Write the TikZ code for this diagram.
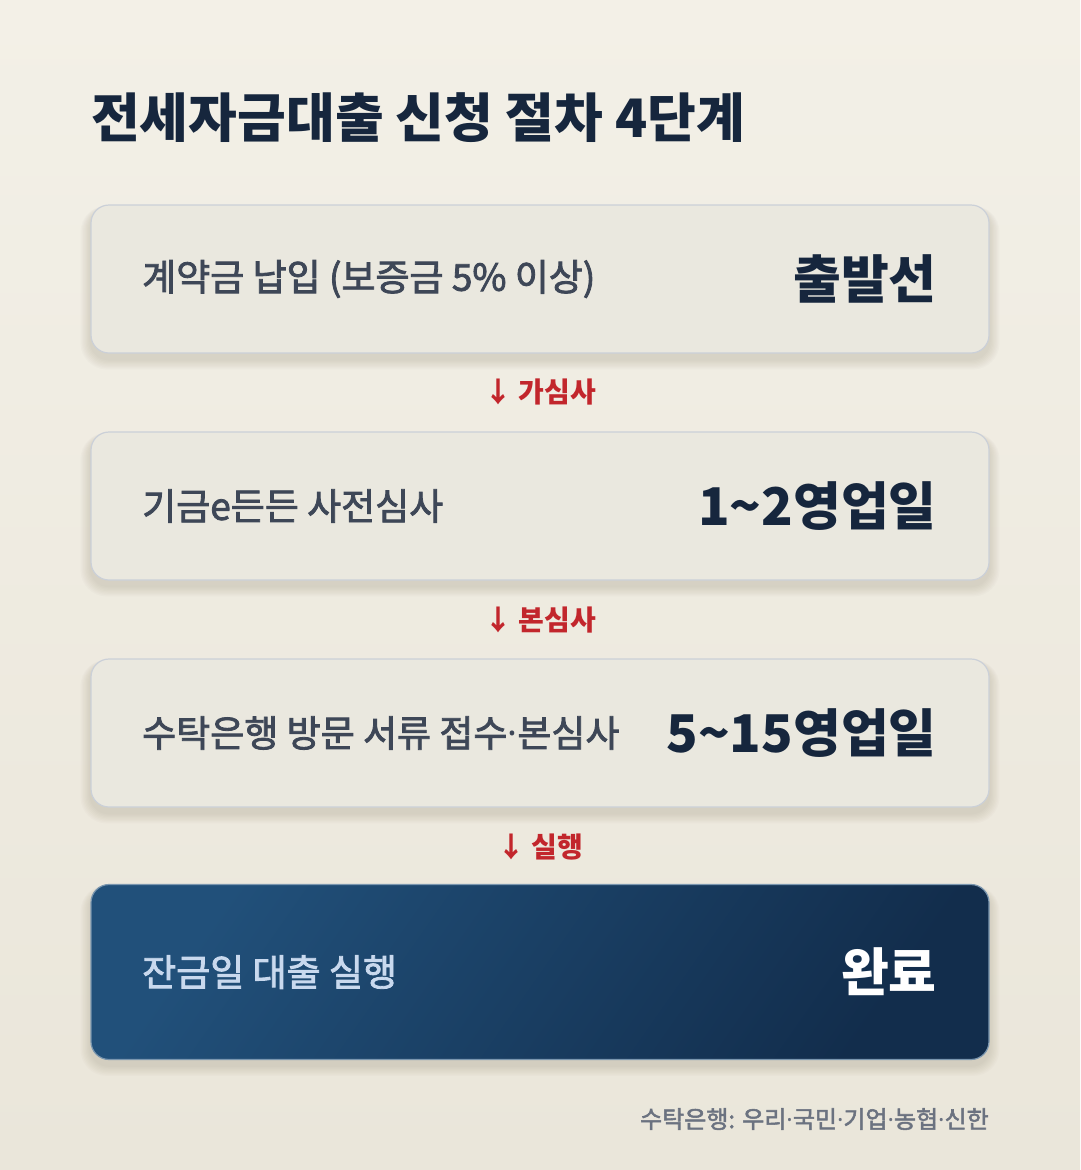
\documentclass[tikz,border=0pt]{standalone}
\usepackage{fontspec}
\usepackage{tikz}
\usepackage{xcolor}
\usetikzlibrary{calc,positioning,shadows}
\setmainfont{Noto Sans CJK KR}
\newfontfamily\medfont[FakeBold=2.2]{Noto Sans CJK KR}
\newfontfamily\dotfont{Noto Sans}
\definecolor{jsbg}{HTML}{F3F0E7}
\definecolor{jsbgdark}{HTML}{EAE6DA}
\definecolor{jsbox}{HTML}{EAE8DF}
\definecolor{jsedge}{HTML}{CBD0D8}
\definecolor{jsnavy}{HTML}{16263D}
\definecolor{jsgraytext}{HTML}{3E4757}
\definecolor{jsred}{HTML}{C2262C}
\definecolor{jsblueA}{HTML}{21507A}
\definecolor{jsblueB}{HTML}{122D4C}
\definecolor{jspale}{HTML}{C9D9EE}
\definecolor{jsfoot}{HTML}{6B7280}
\definecolor{jsshadow}{HTML}{6E6650}
\newcommand{\fs}[1]{\fontsize{#1}{#1}\selectfont}
\newcommand{\mdot}{{\dotfont ·}}
% soft shadow under a box: \softshadow{center}{height}
\newcommand{\softshadow}[2]{%
  \foreach \k in {1,...,8}
    \fill[jsshadow, opacity=0.022, rounded corners=18pt+\k pt]
      ($(#1)+(-449-\k*1.3,-#2/2+4-\k*0.4)$) rectangle ($(#1)+(449+\k*1.3,#2/2+6+\k*1.3)$);}

\begin{document}
\begin{tikzpicture}[x=1pt, y=-1pt,
  stepbox/.style={draw=jsedge, line width=1.2pt, fill=jsbox, rounded corners=18pt,
    minimum width=898pt, minimum height=148pt, inner sep=0pt},
  lefttxt/.style={anchor=west, font=\fs{37}\medfont, text=jsgraytext, inner sep=0pt},
  righttxt/.style={anchor=east, font=\fs{52}\bfseries, text=jsnavy, inner sep=0pt},
  passlbl/.style={font=\fs{28}\bfseries, text=jsred, inner sep=0pt}]
  % background
  \shade[top color=jsbg, bottom color=jsbgdark] (0,0) rectangle (1080,1170);
  \useasboundingbox (0,0) rectangle (1080,1170);
  \node[anchor=west, font=\fs{53}\bfseries, text=jsnavy, inner sep=0pt] (title) at (91,118)
    {전세자금대출 신청 절차 4단계};
  % shadows first
  \softshadow{540,279}{148}
  \softshadow{540,506}{148}
  \softshadow{540,733}{148}
  \softshadow{540,972}{175}
  % steps
  \node[stepbox] (s1) at (540,279) {};
  \node[lefttxt] (s1l) at (142,279) {계약금 납입 (보증금 5\% 이상)};
  \node[righttxt] (s1r) at (937,279) {출발선};
  \node[passlbl] (p1) at (540,392) {↓ 가심사};
  \node[stepbox] (s2) at (540,506) {};
  \node[lefttxt] (s2l) at (142,506) {기금e든든 사전심사};
  \node[righttxt] (s2r) at (937,506) {1\textasciitilde 2영업일};
  \node[passlbl] (p2) at (540,620) {↓ 본심사};
  \node[stepbox] (s3) at (540,733) {};
  \node[lefttxt] (s3l) at (142,733) {수탁은행 방문 서류 접수\mdot 본심사};
  \node[righttxt] (s3r) at (937,733) {5\textasciitilde 15영업일};
  \node[passlbl] (p3) at (540,847) {↓ 실행};
  % final step
  \node[draw=jsblueA!60!white, line width=1.2pt, rounded corners=18pt,
    minimum width=898pt, minimum height=175pt, inner sep=0pt,
    top color=jsblueA, bottom color=jsblueB, shading angle=55] (s4) at (540,972) {};
  \node[lefttxt, text=jspale] (s4l) at (142,972) {잔금일 대출 실행};
  \node[righttxt, text=white] (s4r) at (937,972) {완료};
  \node[anchor=east, font=\fs{24}\medfont, text=jsfoot, inner sep=0pt] (foot) at (989,1119)
    {수탁은행: 우리\mdot 국민\mdot 기업\mdot 농협\mdot 신한};
\end{tikzpicture}
\end{document}
